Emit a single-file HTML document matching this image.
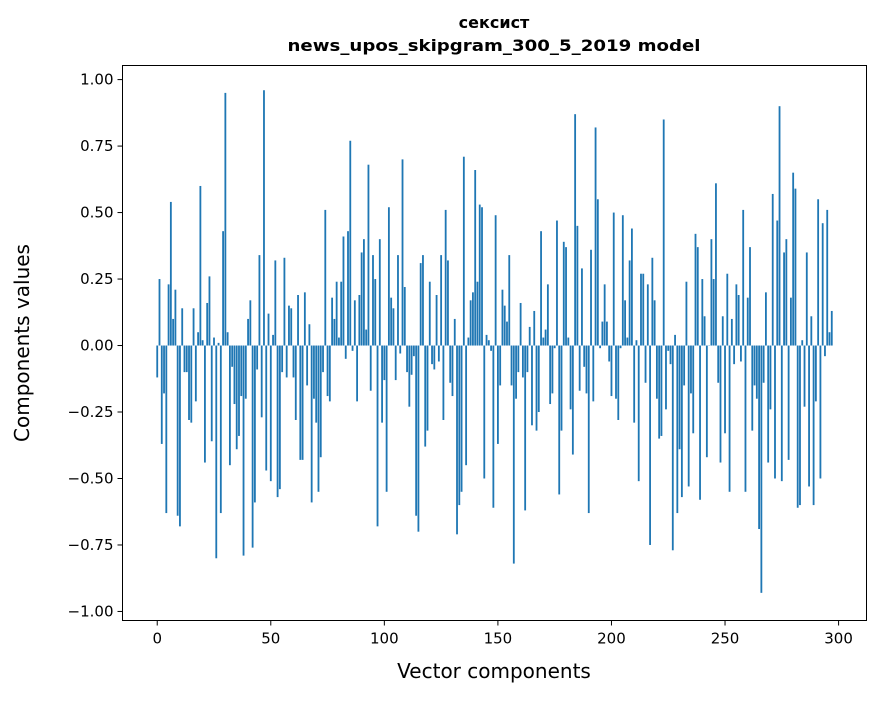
<!DOCTYPE html>
<html><head><meta charset="utf-8"><style>
body{margin:0;background:#fff}
svg text{font-family:"DejaVu Sans","Liberation Sans",sans-serif;fill:#000}
</style></head><body>
<svg id="chart" width="880" height="696" xmlns="http://www.w3.org/2000/svg">
<rect width="880" height="696" fill="#fff"/>
<text x="494" y="28" font-size="16" font-weight="bold" text-anchor="middle">сексист</text>
<text x="494" y="51" font-size="16" font-weight="bold" text-anchor="middle" textLength="413" lengthAdjust="spacingAndGlyphs">news_upos_skipgram_300_5_2019 model</text>
<g id="bars"></g>
<rect x="122.5" y="65.5" width="744" height="555" fill="none" stroke="#000" stroke-width="1"/>
<g id="xt"></g>
<g id="yt"></g>
<text x="494" y="678" font-size="20" text-anchor="middle">Vector components</text>
<text transform="translate(29,343) rotate(-90)" font-size="20" text-anchor="middle">Components values</text>
</svg>
<script>
const values = [-0.12,0.25,-0.37,-0.18,-0.63,0.23,0.54,0.10,0.21,-0.64,-0.68,0.14,-0.10,-0.10,-0.28,-0.29,0.14,-0.21,0.05,0.60,0.02,-0.44,0.16,0.26,-0.36,0.03,-0.80,0.01,-0.63,0.43,0.95,0.05,-0.45,-0.08,-0.22,-0.39,-0.34,-0.19,-0.79,-0.20,0.10,0.17,-0.76,-0.59,-0.09,0.34,-0.27,0.96,-0.47,0.12,-0.51,
0.04,0.32,-0.57,-0.54,-0.10,0.33,-0.12,0.15,0.14,-0.12,-0.28,0.19,-0.43,-0.43,0.20,-0.15,0.08,-0.59,-0.20,-0.29,-0.55,-0.42,-0.10,0.51,-0.19,-0.21,0.18,0.10,0.24,0.03,0.24,0.41,-0.05,0.43,0.77,-0.02,0.17,-0.21,0.19,0.35,0.40,0.06,0.68,-0.17,0.34,0.25,-0.68,
0.40,-0.29,-0.13,-0.55,0.52,0.18,0.14,-0.13,0.34,-0.03,0.70,0.22,-0.10,-0.23,-0.11,-0.04,-0.64,-0.70,0.31,0.34,-0.38,-0.32,0.24,-0.07,-0.09,0.19,-0.06,0.34,-0.28,0.51,0.32,-0.14,-0.19,0.10,-0.71,-0.60,-0.55,0.71,-0.45,0.03,0.17,0.20,0.66,0.24,0.53,0.52,-0.50,0.04,0.02,-0.02,-0.61,
0.49,-0.37,-0.15,0.21,0.15,0.09,0.34,-0.15,-0.82,-0.20,-0.10,0.16,-0.12,-0.62,-0.10,0.07,-0.30,0.13,-0.32,-0.25,0.43,0.03,0.06,0.23,-0.22,-0.18,-0.01,0.47,-0.56,-0.32,0.39,0.37,0.03,-0.24,-0.41,0.87,0.45,-0.17,0.29,-0.08,-0.18,-0.63,0.36,-0.21,0.82,0.55,-0.01,0.09,0.23,0.09,-0.06,
-0.19,0.50,-0.20,-0.28,-0.01,0.49,0.17,0.03,0.32,0.44,-0.29,0.02,-0.51,0.27,0.27,-0.14,0.23,-0.75,0.33,0.17,-0.20,-0.35,-0.34,0.85,-0.24,-0.02,-0.07,-0.77,0.04,-0.63,-0.39,-0.57,-0.15,0.24,-0.53,-0.18,-0.33,0.42,0.37,-0.58,0.25,0.11,-0.42,0.00,0.40,0.25,0.61,-0.14,-0.44,0.11,
-0.33,0.27,-0.55,0.10,-0.07,0.23,0.19,-0.06,0.51,-0.55,0.18,0.37,-0.32,-0.15,-0.20,-0.69,-0.93,-0.14,0.20,-0.44,-0.24,0.57,-0.50,0.47,0.90,-0.51,0.35,0.40,-0.43,0.18,0.65,0.59,-0.61,-0.60,0.02,-0.23,0.35,-0.53,0.11,-0.60,-0.21,0.55,-0.50,0.46,-0.04,0.51,0.05,0.13];
const xTicks = [0,50,100,150,200,250,300];
const yTicks = [1.00,0.75,0.50,0.25,0.00,-0.25,-0.50,-0.75,-1.00];

const L=122.5,R=866.5,T=65.5,B=620.5;
const lo=-0.4, hi=values.length-1+0.4, pad=0.05*(hi-lo);
const xmin=lo-pad, xmax=hi+pad;
const ymin=-1.034, ymax=1.053;
function sx(v){return L+(v-xmin)/(xmax-xmin)*(R-L);}
function sy(v){return B-(v-ymin)/(ymax-ymin)*(B-T);}
const NS="http://www.w3.org/2000/svg";
const bars=document.getElementById('bars');
values.forEach((v,i)=>{
  const r=document.createElementNS(NS,'rect');
  const x0=sx(i-0.4), x1=sx(i+0.4);
  const y0=sy(Math.max(v,0)), y1=sy(Math.min(v,0));
  r.setAttribute('x',x0);r.setAttribute('width',x1-x0);
  r.setAttribute('y',y0);r.setAttribute('height',Math.max(y1-y0,0.3));
  r.setAttribute('fill','#1f77b4');
  
  
  bars.appendChild(r);
});
const xt=document.getElementById('xt');
xTicks.forEach(t=>{
  const x=sx(t);
  const l=document.createElementNS(NS,'line');
  l.setAttribute('x1',x);l.setAttribute('x2',x);l.setAttribute('y1',B);l.setAttribute('y2',B+5);l.setAttribute('stroke','#000');
  
  
  xt.appendChild(l);
  const tx=document.createElementNS(NS,'text');
  tx.setAttribute('x',x);tx.setAttribute('y',B+23);tx.setAttribute('font-size','15');tx.setAttribute('text-anchor','middle');
  tx.textContent=t;
  
  
  xt.appendChild(tx);
});
const yt=document.getElementById('yt');
yTicks.forEach(t=>{
  const y=sy(t);
  const l=document.createElementNS(NS,'line');
  l.setAttribute('x1',L-5);l.setAttribute('x2',L);l.setAttribute('y1',y);l.setAttribute('y2',y);l.setAttribute('stroke','#000');
  
  
  yt.appendChild(l);
  const tx=document.createElementNS(NS,'text');
  tx.setAttribute('x',L-9);tx.setAttribute('y',y+5);tx.setAttribute('font-size','15');tx.setAttribute('text-anchor','end');
  tx.textContent=(t<0?'\u2212':'')+Math.abs(t).toFixed(2);
  
  
  yt.appendChild(tx);
});
</script>
</body></html>
